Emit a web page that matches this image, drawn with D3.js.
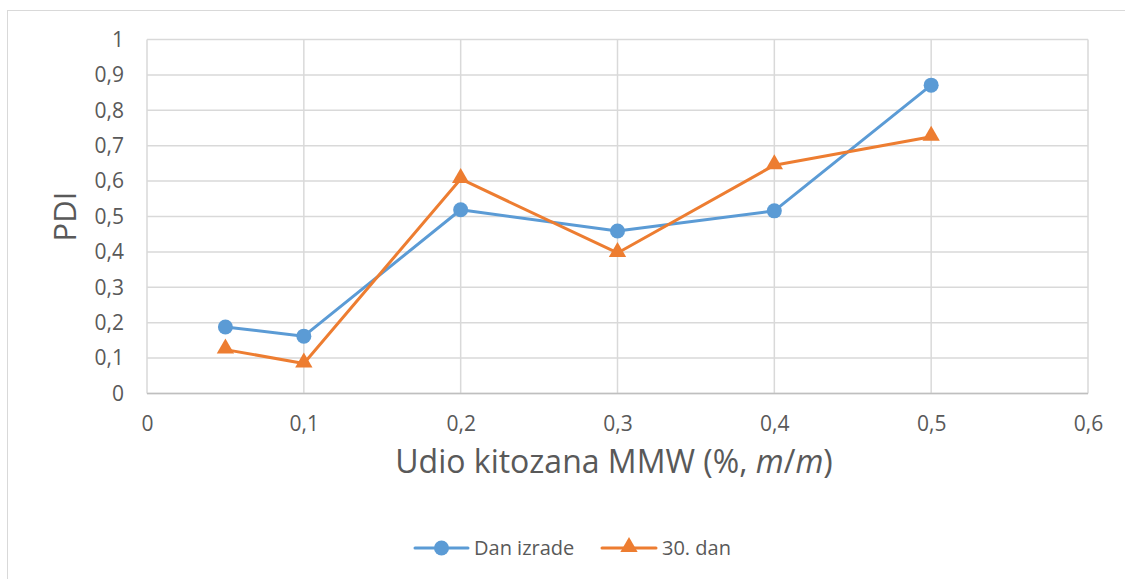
<!DOCTYPE html>
<html><head><meta charset="utf-8">
<script src="https://cdn.jsdelivr.net/npm/d3@7"></script>
<style>body{margin:0;background:#fff}svg{display:block}</style>
</head><body>
<script>
const xValues = [0.05, 0.1, 0.2, 0.3, 0.4, 0.5];
const danIzrade = [0.188, 0.162, 0.519, 0.459, 0.516, 0.871];
const dan30 = [0.124, 0.085, 0.606, 0.397, 0.645, 0.725];
const seriesNames = ["Dan izrade", "30. dan"];
const xTicks = [0, 0.1, 0.2, 0.3, 0.4, 0.5, 0.6];
const yTicks = [0, 0.1, 0.2, 0.3, 0.4, 0.5, 0.6, 0.7, 0.8, 0.9, 1];

const W = 1125, H = 579;
const font = "'Open Sans', 'Liberation Sans', sans-serif";
const textColor = "#595959";
const svg = d3.select("body").append("svg").attr("width", W).attr("height", H);
svg.append("rect").attr("x", 7.5).attr("y", 10.5).attr("width", W + 10).attr("height", H + 10)
  .attr("fill", "#fff").attr("stroke", "#d9d9d9").attr("stroke-width", 1);

const x = d3.scaleLinear().domain([0, 0.6]).range([147, 1088]);
const y = d3.scaleLinear().domain([0, 1]).range([393.5, 39.5]);
const fmt = d => d3.format("")(+d.toFixed(1)).replace(".", ",");

const g = svg.append("g");
g.selectAll("line.h").data(yTicks).join("line")
  .attr("x1", x(0)).attr("x2", x(0.6)).attr("y1", d => y(d)).attr("y2", d => y(d))
  .attr("stroke", "#d9d9d9").attr("stroke-width", 1.5);
g.selectAll("line.v").data(xTicks).join("line")
  .attr("y1", y(0)).attr("y2", y(1)).attr("x1", d => x(d)).attr("x2", d => x(d))
  .attr("stroke", "#d9d9d9").attr("stroke-width", 1.5);
g.append("line").attr("x1", x(0)).attr("x2", x(0.6)).attr("y1", y(0)).attr("y2", y(0))
  .attr("stroke", "#bfbfbf").attr("stroke-width", 1.5);

const xAxis = d3.axisBottom(x).tickValues(xTicks).tickFormat(fmt).tickSize(0).tickPadding(23);
const ax = svg.append("g").attr("transform", `translate(0,${y(0)})`).call(xAxis);
ax.select(".domain").remove();
ax.selectAll("text").attr("font-family", font).attr("font-size", 21).attr("fill", textColor);
const yAxis = d3.axisLeft(y).tickValues(yTicks).tickFormat(fmt).tickSize(0).tickPadding(23);
const ay = svg.append("g").attr("transform", `translate(${x(0)},0)`).call(yAxis);
ay.select(".domain").remove();
ay.selectAll("text").attr("font-family", font).attr("font-size", 21).attr("fill", textColor);

svg.append("text").attr("transform", "translate(76,216.5) rotate(-90)").attr("text-anchor", "middle")
  .attr("font-family", font).attr("font-size", 31).attr("fill", textColor).text("PDI");
const xt = svg.append("text").attr("x", 614).attr("y", 473).attr("text-anchor", "middle")
  .attr("font-family", font).attr("font-size", 32).attr("fill", textColor);
xt.append("tspan").text("Udio kitozana MMW (%, ");
xt.append("tspan").attr("font-style", "italic").text("m");
xt.append("tspan").text("/");
xt.append("tspan").attr("font-style", "italic").text("m");
xt.append("tspan").text(")");

const colors = ["#5B9BD5", "#ED7D31"];
const data = [danIzrade, dan30];
const line = d3.line().x((d, i) => x(xValues[i])).y(d => y(d));
const tri = d3.symbol().type(d3.symbolTriangle).size(130);

data.forEach((vals, k) => {
  svg.append("path").datum(vals).attr("d", line).attr("fill", "none")
    .attr("stroke", colors[k]).attr("stroke-width", 3).attr("stroke-linejoin", "round");
});
data.forEach((vals, k) => {
  const m = svg.append("g");
  if (k === 0) {
    m.selectAll("circle").data(vals).join("circle")
      .attr("cx", (d, i) => x(xValues[i])).attr("cy", d => y(d)).attr("r", 7.5).attr("fill", colors[k]);
  } else {
    m.selectAll("path").data(vals).join("path").attr("d", tri)
      .attr("transform", (d, i) => `translate(${x(xValues[i])},${y(d) - 1})`).attr("fill", colors[k]);
  }
});

const leg = [{x0: 415, x1: 468, tx: 474}, {x0: 602, x1: 656, tx: 662}];
leg.forEach((l, k) => {
  const ly = 548;
  svg.append("line").attr("x1", l.x0).attr("x2", l.x1).attr("y1", ly).attr("y2", ly)
    .attr("stroke", colors[k]).attr("stroke-width", 3).attr("stroke-linecap", "round");
  if (k === 0) svg.append("circle").attr("cx", (l.x0 + l.x1) / 2).attr("cy", ly).attr("r", 7.5).attr("fill", colors[k]);
  else svg.append("path").attr("d", tri).attr("transform", `translate(${(l.x0 + l.x1) / 2},${ly - 1})`).attr("fill", colors[k]);
  svg.append("text").attr("x", l.tx).attr("y", 555).attr("font-family", font).attr("font-size", 20)
    .attr("fill", textColor).text(seriesNames[k]);
});
</script>
</body></html>
